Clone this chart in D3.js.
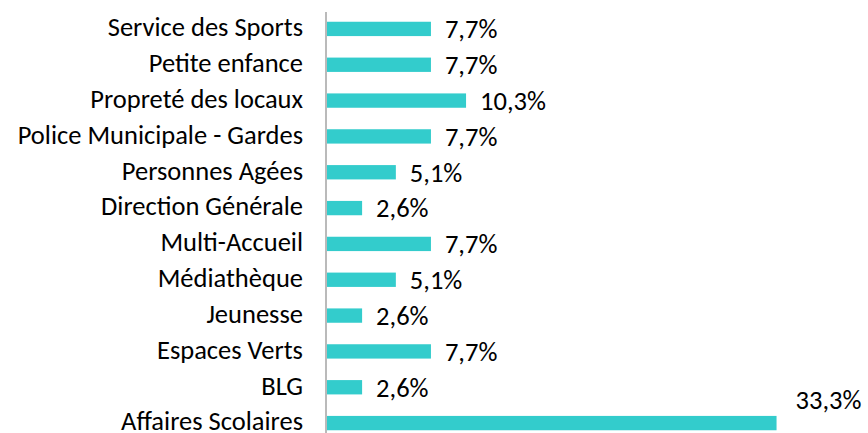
<!DOCTYPE html>
<html>
<head>
<meta charset="utf-8">
<script src="https://cdn.jsdelivr.net/npm/d3@7"></script>
<style>
  body { margin: 0; background: #fff; }
  svg text { font-family: Carlito, Lato, "Open Sans", sans-serif; fill: #000; }
</style>
</head>
<body>
<div id="plot"></div>
<script>
// Services and their share of responses (%)
const services = [
    'Service des Sports', 'Petite enfance', 'Propreté des locaux', 'Police Municipale - Gardes',
    'Personnes Agées', 'Direction Générale', 'Multi-Accueil', 'Médiathèque',
    'Jeunesse', 'Espaces Verts', 'BLG', 'Affaires Scolaires'
];
const shares = [7.7, 7.7, 10.3, 7.7, 5.1, 2.6, 7.7, 5.1, 2.6, 7.7, 2.6, 33.3];
const shareLabels = ['7,7%', '7,7%', '10,3%', '7,7%', '5,1%', '2,6%', '7,7%', '5,1%', '2,6%', '7,7%', '2,6%', '33,3%'];

const width = 868, height = 433;
const axisX = 326;

const data = services.map((s, i) => ({name: s, value: shares[i], label: shareLabels[i]}));

const svg = d3.select('#plot').append('svg')
    .attr('width', width)
    .attr('height', height);

const x = d3.scaleLinear().domain([0, 1]).range([axisX, axisX + 13.5]);
const y = d3.scaleBand()
    .domain(services)
    .range([11, 441])
    .paddingInner(0.6)
    .paddingOuter(0.3);

svg.selectAll('rect.bar')
    .data(data)
    .enter()
    .append('rect')
    .attr('class', 'bar')
    .attr('x', x(0) + 1)
    .attr('y', d => y(d.name))
    .attr('width', d => x(d.value) - x(0))
    .attr('height', y.bandwidth())
    .attr('fill', '#33CCCC');

// category labels
svg.selectAll('text.cat')
    .data(data)
    .enter()
    .append('text')
    .attr('class', 'cat')
    .attr('x', axisX - 23)
    .attr('y', d => y(d.name) + y.bandwidth() / 2 - 2)
    .attr('dy', '0.35em')
    .attr('text-anchor', 'end')
    .attr('font-size', '26.5px')
    .text(d => d.name);

// value labels; the last one sits above its bar
svg.selectAll('text.val')
    .data(data)
    .enter()
    .append('text')
    .attr('class', 'val')
    .attr('x', (d, i) => i === data.length - 1 ? x(d.value) + 20 : x(d.value) + 15)
    .attr('y', (d, i) => y(d.name) + y.bandwidth() / 2 + (i === data.length - 1 ? -23 : 0))
    .attr('dy', '0.35em')
    .attr('font-size', '26.5px')
    .text(d => d.label);

svg.append('line')
    .attr('x1', axisX).attr('x2', axisX)
    .attr('y1', 12).attr('y2', height)
    .attr('stroke', '#8c8c8c')
    .attr('stroke-width', 1.2);
</script>
</body>
</html>
